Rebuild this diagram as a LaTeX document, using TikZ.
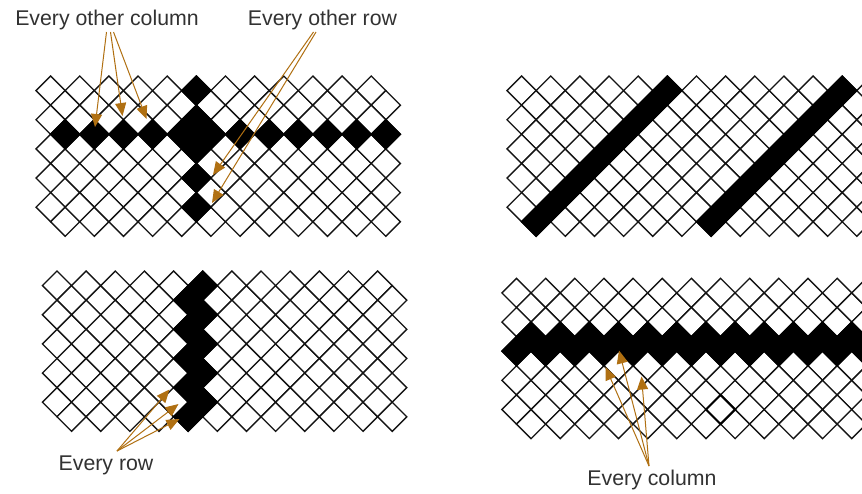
\documentclass[tikz,border=0pt]{standalone}
\usepackage{fontspec}
\setmainfont{Liberation Sans}
\usetikzlibrary{arrows.meta}
\definecolor{arrowc}{RGB}{176,112,18}
\definecolor{labelc}{RGB}{50,50,50}
\definecolor{gridc}{RGB}{20,20,20}
\newcommand\cellsz{29.15}
\newcommand\halfsz{14.575}
% one diamond cell centred at (x,y)
\newcommand\dcell[3]{\path[#1] (#2,#3) +(-\halfsz,0) -- +(0,-\halfsz) -- +(\halfsz,0) -- +(0,\halfsz) -- cycle;}
% A-lattice cell: style, x0, y0, i, j
\newcommand\cellAt[5]{\dcell{#1}{#2+#4*\cellsz}{#3+#5*\cellsz}}
% B-lattice cell: style, x0, y0, i, j
\newcommand\cellBt[5]{\dcell{#1}{#2+#4*\cellsz+\halfsz}{#3+#5*\cellsz+\halfsz}}
% whole grid: x0, y0, last column index
\newcommand\diagrid[3]{%
  \foreach \ii in {0,...,#3}{\foreach \jj in {0,...,4}{%
    \cellAt{cellw}{#1}{#2}{\ii}{\jj}
    \cellBt{cellw}{#1}{#2}{\ii}{\jj}}}}
\begin{document}
\begin{tikzpicture}[x=1pt,y=-1pt,
  cellw/.style={draw=gridc,fill=white,line width=1.35pt,line join=miter},
  cellb/.style={draw=black,fill=black,line width=1.35pt,line join=miter},
  cellh/.style={draw=black,line width=2pt,line join=miter},
  lbl/.style={text=labelc,font=\fontsize{21.3}{25}\selectfont,inner sep=0pt,anchor=base},
  arr/.style={draw=arrowc,line width=1pt,-{Triangle[length=13pt,width=11pt]}}]
\useasboundingbox (0,0) rectangle (862,493);
\clip (0,0) rectangle (862,493);
\fill[white] (0,0) rectangle (862,493);
% ---------- top-left grid ----------
\def\gx{50.6}\def\gy{90.6}
\diagrid{\gx}{\gy}{11}
\foreach \ii in {0,...,11}{\cellBt{cellb}{\gx}{\gy}{\ii}{1}}
\foreach \jj in {0,...,4}{\cellAt{cellb}{\gx}{\gy}{5}{\jj}}
% ---------- top-right grid ----------
\def\gx{521.6}\def\gy{90.6}
\diagrid{\gx}{\gy}{12}
\foreach \jj/\aa/\bb in {0/5/4,1/4/3,2/3/2,3/2/1,4/1/0}{%
  \cellAt{cellb}{\gx}{\gy}{\aa}{\jj}\cellBt{cellb}{\gx}{\gy}{\bb}{\jj}}
\foreach \jj/\aa/\bb in {0/11/10,1/10/9,2/9/8,3/8/7,4/7/6}{%
  \cellAt{cellb}{\gx}{\gy}{\aa}{\jj}\cellBt{cellb}{\gx}{\gy}{\bb}{\jj}}
% ---------- bottom-left grid ----------
\def\gx{57}\def\gy{285.6}
\diagrid{\gx}{\gy}{11}
\foreach \jj in {0,...,4}{\cellAt{cellb}{\gx}{\gy}{5}{\jj}\cellBt{cellb}{\gx}{\gy}{4}{\jj}}
% ---------- bottom-right grid ----------
\def\gx{516.5}\def\gy{292.9}
\diagrid{\gx}{\gy}{12}
\foreach \ii in {0,...,12}{\cellBt{cellb}{\gx}{\gy}{\ii}{1}\cellAt{cellb}{\gx}{\gy}{\ii}{2}}
\cellAt{cellh}{\gx}{\gy}{7}{4}
% ---------- labels ----------
\node[lbl] (eoc) at (107,25) {Every other column};
\node[lbl] (eor) at (322.5,25) {Every other row};
\node[lbl] (er) at (106,470) {Every row};
\node[lbl] (ec) at (652,485) {Every column};
% ---------- arrow ends ----------
\coordinate (eocs1) at (106.5,32);
\coordinate (eocs2) at (110.5,32);
\coordinate (eocs3) at (113.5,32);
\coordinate (eoct1) at (95,127);
\coordinate (eoct2) at (122.5,116);
\coordinate (eoct3) at (146.5,119);
\coordinate (eors1) at (313.5,32);
\coordinate (eors2) at (316,32);
\coordinate (eort1) at (213,175);
\coordinate (eort2) at (212,203);
\coordinate (ers) at (117,451);
\coordinate (ert1) at (169.5,389.5);
\coordinate (ert2) at (178.5,404);
\coordinate (ert3) at (179.5,419);
\coordinate (ecs) at (649,466);
\coordinate (ect1) at (605.5,367);
\coordinate (ect2) at (619,350.5);
\coordinate (ect3) at (641.5,376.5);
% ---------- arrows ----------
\draw[arr] (eocs1) -- (eoct1);
\draw[arr] (eocs2) -- (eoct2);
\draw[arr] (eocs3) -- (eoct3);
\draw[arr] (eors1) -- (eort1);
\draw[arr] (eors2) -- (eort2);
\draw[arr] (ers) -- (ert1);
\draw[arr] (ers) -- (ert2);
\draw[arr] (ers) -- (ert3);
\draw[arr] (ecs) -- (ect1);
\draw[arr] (ecs) -- (ect2);
\draw[arr] (ecs) -- (ect3);
\end{tikzpicture}
\end{document}
